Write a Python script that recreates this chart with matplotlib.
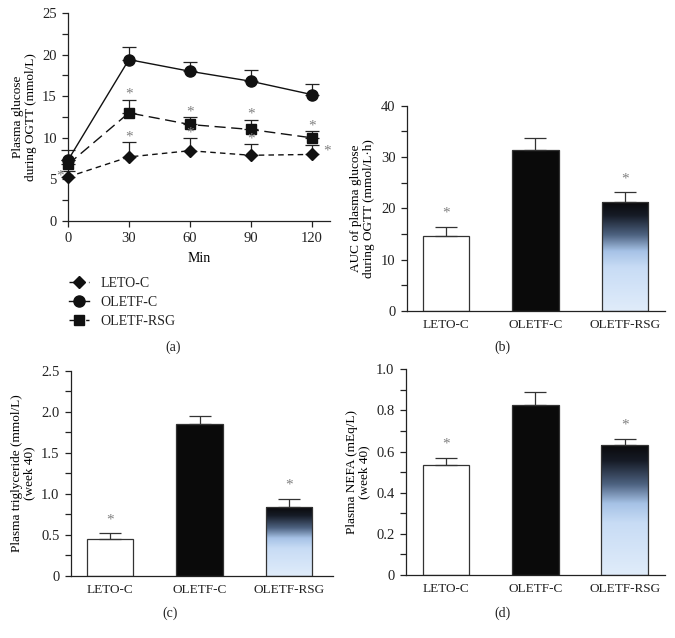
"""
OGTT glucose curve plus AUC / triglyceride / NEFA bar panels.
"""

import numpy as np
import matplotlib
matplotlib.use('Agg')
import matplotlib.pyplot as plt
from matplotlib.colors import LinearSegmentedColormap

plt.rcParams['font.family'] = ['Liberation Serif', 'DejaVu Serif']
plt.rcParams['font.size'] = 9.5
plt.rcParams['axes.linewidth'] = 0.9
plt.rcParams['axes.edgecolor'] = '#222222'
plt.rcParams['xtick.color'] = '#222222'
plt.rcParams['ytick.color'] = '#222222'
plt.rcParams['text.color'] = '#222222'

# ---- data ----
minutes = [0, 30, 60, 90, 120]
leto_mean = [5.3, 7.7, 8.45, 7.9, 8.0]
leto_sem = [0.7, 1.8, 1.55, 1.3, 1.1]
oletf_mean = [7.3, 19.4, 18.0, 16.8, 15.2]
oletf_sem = [1.2, 1.5, 1.1, 1.3, 1.3]
rsg_mean = [6.8, 13.0, 11.6, 11.0, 10.0]
rsg_sem = [0.5, 1.6, 0.9, 1.2, 0.85]
leto_star = [True, True, True, True, True]
rsg_star = [False, True, True, True, True]

groups = ['LETO-C', 'OLETF-C', 'OLETF-RSG']
auc_mean = [14.7, 31.4, 21.2]
auc_sem = [1.7, 2.4, 1.9]
tg_mean = [0.444, 1.846, 0.841]
tg_sem = [0.073, 0.098, 0.098]
nefa_mean = [0.533, 0.825, 0.630]
nefa_sem = [0.037, 0.063, 0.031]
bar_star = [True, False, True]

STAR = '#808080'
grad = LinearSegmentedColormap.from_list(
    'rsg', [(0.0, '#0a0a0c'), (0.12, '#161b26'), (0.3, '#4d6280'),
            (0.45, '#a6c2e6'), (0.6, '#c8dcf5'), (1.0, '#e0ecfa')])


def style_axes(ax):
    for s in ['top', 'right']:
        ax.spines[s].set_visible(False)
    ax.tick_params(direction='out', length=4.5, width=0.9, labelsize=10.5)
    ax.tick_params(which='minor', direction='out', length=4.5, width=0.9)


def bar_panel(ax, means, sems, ylim, major, minor, ylabel, ticklabels, xlim):
    x = np.arange(len(groups))
    bars = ax.bar(x, means, width=0.52, edgecolor='#333333', linewidth=0.9, zorder=2)
    bars[0].set_facecolor('white')
    bars[1].set_facecolor('#0a0a0a')
    bars[2].set_facecolor('none')
    # gradient fill for the RSG bar
    b = bars[2]
    img = np.linspace(0, 1, 256).reshape(-1, 1)
    im = ax.imshow(img, cmap=grad, aspect='auto', zorder=1.5,
                   extent=[b.get_x(), b.get_x() + b.get_width(), 0, b.get_height()],
                   origin='upper')
    im.set_clip_path(b)
    ax.errorbar(x, means, yerr=[np.zeros(len(x)), sems], fmt='none',
                ecolor='#333333', elinewidth=0.9, capsize=8, capthick=0.9, zorder=3)
    span = ylim[1] - ylim[0]
    for i in range(len(x)):
        if bar_star[i]:
            ax.text(x[i], means[i] + sems[i] + span * 0.035, '*', ha='center',
                    va='bottom', color=STAR, fontsize=11)
    ax.set_xlim(*xlim)
    ax.set_ylim(*ylim)
    style_axes(ax)
    ax.set_yticks(major)
    ax.set_yticklabels(ticklabels)
    ax.set_yticks(minor, minor=True)
    ax.set_xticks(x)
    ax.set_xticklabels(groups)
    ax.tick_params(axis='x', length=0, pad=6, labelsize=9.5)
    ax.set_ylabel(ylabel, fontsize=9.5, linespacing=1.1)


fig = plt.figure(figsize=(6.75, 6.38), dpi=100)

# ---- (a) OGTT curve ----
ax = fig.add_axes([0.1007, 0.6536, 0.3881, 0.326])
kw = dict(color='#111111', lw=1.0, ms=7.5, zorder=3)
l_leto, = ax.plot(minutes, leto_mean, marker='D', dashes=(4, 3), **dict(kw, ms=6.5))
l_oletf, = ax.plot(minutes, oletf_mean, marker='o', ls='-', **dict(kw, ms=8))
l_rsg, = ax.plot(minutes, rsg_mean, marker='s', dashes=(8, 4), **dict(kw, ms=7))
for m, s in [(leto_mean, leto_sem), (oletf_mean, oletf_sem), (rsg_mean, rsg_sem)]:
    ax.errorbar(minutes, m, yerr=[np.zeros(len(m)), s], fmt='none', ecolor='#222222',
                elinewidth=0.9, capsize=5, capthick=0.9, zorder=2)
star_kw = dict(textcoords='offset points', ha='center', va='bottom', color=STAR, fontsize=11)
for i, t in enumerate(minutes):
    if rsg_star[i]:
        ax.annotate('*', (t, rsg_mean[i] + rsg_sem[i]), xytext=(0, -1), **star_kw)
    if leto_star[i]:
        if i == 0:
            ax.annotate('*', (t, leto_mean[i]), xytext=(-6, -4), **star_kw)
        elif i == len(minutes) - 1:
            ax.annotate('*', (t, leto_mean[i] + leto_sem[i]), xytext=(11, -9), **star_kw)
        else:
            ax.annotate('*', (t, leto_mean[i] + leto_sem[i]), xytext=(0, -1), **star_kw)
ax.set_xlim(0, 129)
ax.set_ylim(0, 25)
style_axes(ax)
ax.set_xticks(minutes)
ax.set_yticks([0, 5, 10, 15, 20, 25])
ax.set_yticks(np.arange(2.5, 25, 5), minor=True)
ax.set_xlabel('Min', fontsize=10, labelpad=5)
ax.set_ylabel('Plasma glucose\nduring OGTT (mmol/L)', fontsize=9.5, linespacing=1.1)
for art in ax.lines:
    art.set_clip_on(False)
fig.legend([l_leto, l_oletf, l_rsg], groups, loc='upper left',
           bbox_to_anchor=(0.083, 0.586), frameon=False, fontsize=10,
           handlelength=1.5, handletextpad=0.8, labelspacing=0.45)

# ---- (b) AUC ----
ax_b = fig.add_axes([0.6025, 0.5125, 0.3827, 0.3218])
bar_panel(ax_b, auc_mean, auc_sem, (0, 40), [0, 10, 20, 30, 40], [5, 15, 25, 35],
          'AUC of plasma glucose\nduring OGTT (mmol/L·h)',
          ['0', '10', '20', '30', '40'], (-0.44, 2.45))

# ---- (c) triglyceride ----
ax_c = fig.add_axes([0.1047, 0.0977, 0.3886, 0.3213])
bar_panel(ax_c, tg_mean, tg_sem, (0, 2.5), [0, 0.5, 1.0, 1.5, 2.0, 2.5],
          [0.25, 0.75, 1.25, 1.75, 2.25],
          'Plasma triglyceride (mmol/L)\n(week 40)',
          ['0', '0.5', '1.0', '1.5', '2.0', '2.5'], (-0.44, 2.49))

# ---- (d) NEFA ----
ax_d = fig.add_axes([0.601, 0.0987, 0.3841, 0.3224])
bar_panel(ax_d, nefa_mean, nefa_sem, (0, 1.0), [0, 0.2, 0.4, 0.6, 0.8, 1.0],
          [0.1, 0.3, 0.5, 0.7, 0.9],
          'Plasma NEFA (mEq/L)\n(week 40)',
          ['0', '0.2', '0.4', '0.6', '0.8', '1.0'], (-0.45, 2.45))

# panel letters
for txt, x, y in [('(a)', 0.256, 1 - 347 / 638), ('(b)', 0.745, 1 - 347 / 638),
                  ('(c)', 0.252, 1 - 613 / 638), ('(d)', 0.745, 1 - 613 / 638)]:
    fig.text(x, y, txt, ha='center', va='center', fontsize=10)

fig.savefig('out.png', dpi=100)
